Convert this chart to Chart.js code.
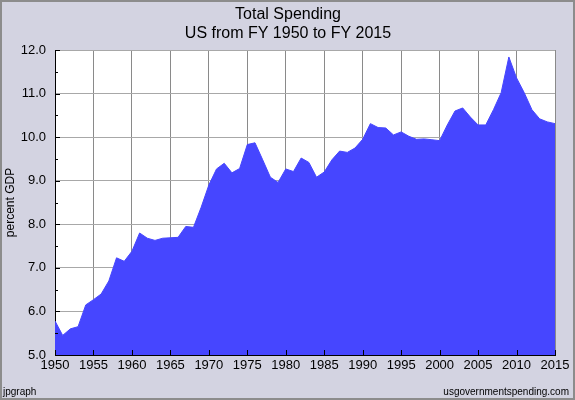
<!DOCTYPE html>
<html lang="en">
<head>
    <meta charset="UTF-8">
    <title>Total Spending - US from FY 1950 to FY 2015</title>
    <style>
        body {
            margin: 0;
            padding: 0;
            background: #ffffff;
        }
        .chart-box {
            width: 575px;
            height: 400px;
        }
    </style>
    <script src="https://cdn.jsdelivr.net/npm/chart.js@4/dist/chart.umd.min.js"></script>
</head>
<body>
    <div class="chart-box">
        <canvas id="spendingChart" width="575" height="400"></canvas>
    </div>

    <script>
        // fiscal years and total spending (percent GDP)
        const years = [
            1950, 1951, 1952, 1953, 1954, 1955, 1956, 1957, 1958, 1959,
            1960, 1961, 1962, 1963, 1964, 1965, 1966, 1967, 1968, 1969,
            1970, 1971, 1972, 1973, 1974, 1975, 1976, 1977, 1978, 1979,
            1980, 1981, 1982, 1983, 1984, 1985, 1986, 1987, 1988, 1989,
            1990, 1991, 1992, 1993, 1994, 1995, 1996, 1997, 1998, 1999,
            2000, 2001, 2002, 2003, 2004, 2005, 2006, 2007, 2008, 2009,
            2010, 2011, 2012, 2013, 2014, 2015
        ];
        const spending = [
            5.78, 5.45, 5.60, 5.65, 6.15, 6.27, 6.40, 6.70, 7.23, 7.15,
            7.38, 7.80, 7.68, 7.63, 7.68, 7.69, 7.70, 7.95, 7.93, 8.39,
            8.90, 9.27, 9.40, 9.18, 9.28, 9.83, 9.87, 9.48, 9.08, 8.96,
            9.27, 9.21, 9.52, 9.42, 9.08, 9.20, 9.48, 9.68, 9.65, 9.75,
            9.95, 10.31, 10.22, 10.21, 10.05, 10.12, 10.02, 9.95, 9.96, 9.94,
            9.92, 10.28, 10.60, 10.67, 10.46, 10.28, 10.28, 10.63, 11.02, 11.84,
            11.36, 11.02, 10.63, 10.42, 10.35, 10.31
        ];
        const titleLines = ['Total Spending', 'US from FY 1950 to FY 2015'];
        const yAxisTitle = 'percent GDP';
        const leftNote = 'jpgraph';
        const rightNote = 'usgovernmentspending.com';

        const FONT = '"Liberation Sans", Arial, sans-serif';

        // background, frame, titles and inside tick marks (jpgraph look)
        const framePlugin = {
            id: 'frame',
            beforeDraw(chart) {
                const ctx = chart.ctx;
                const a = chart.chartArea;
                ctx.save();
                ctx.fillStyle = '#d3d3e1';
                ctx.fillRect(0, 0, chart.width, chart.height);
                ctx.strokeStyle = '#8c8c8c';
                ctx.lineWidth = 2;
                ctx.strokeRect(1, 1, chart.width - 2, chart.height - 2);
                ctx.fillStyle = '#ffffff';
                ctx.fillRect(a.left, a.top, a.right - a.left, a.bottom - a.top);
                ctx.restore();
            },
            afterDraw(chart) {
                const ctx = chart.ctx;
                const a = chart.chartArea;
                const xs = chart.scales.x;
                const ys = chart.scales.y;
                ctx.save();

                // titles
                ctx.fillStyle = '#000000';
                ctx.textAlign = 'center';
                ctx.textBaseline = 'middle';
                ctx.font = '16px ' + FONT;
                ctx.fillText(titleLines[0], 288, 15);
                ctx.fillText(titleLines[1], 288, 34);

                // footer notes
                ctx.font = '10px ' + FONT;
                ctx.textAlign = 'left';
                ctx.fillText(leftNote, 3, 392);
                ctx.textAlign = 'right';
                ctx.fillText(rightNote, 569, 392);

                // tick marks pointing inside the plot
                ctx.strokeStyle = '#000000';
                ctx.lineWidth = 1;
                ctx.beginPath();
                for (let v = 5; v <= 12; v += 0.5) {
                    const y = Math.round(ys.getPixelForValue(v)) + 0.5;
                    const len = (v % 1 === 0) ? 5 : 3;
                    ctx.moveTo(a.left, y);
                    ctx.lineTo(a.left + len, y);
                }
                for (let yr = 1950; yr <= 2015; yr += 5) {
                    const x = Math.round(xs.getPixelForValue(yr)) + 0.5;
                    ctx.moveTo(x, a.bottom);
                    ctx.lineTo(x, a.bottom - 5);
                }
                ctx.stroke();
                ctx.restore();
            }
        };

        const points = years.map((yr, i) => ({ x: yr, y: spending[i] }));

        const chart = new Chart(document.getElementById('spendingChart'), {
            type: 'line',
            data: {
                datasets: [{
                    label: 'Total Spending',
                    data: points,
                    fill: 'start',
                    backgroundColor: '#4646ff',
                    borderColor: '#4646ff',
                    borderWidth: 1,
                    pointRadius: 0,
                    tension: 0
                }]
            },
            options: {
                responsive: false,
                animation: false,
                devicePixelRatio: 1,
                layout: {
                    padding: { left: 2, top: 50, right: 20, bottom: 0 }
                },
                plugins: {
                    legend: { display: false },
                    title: { display: false },
                    tooltip: { enabled: false }
                },
                scales: {
                    x: {
                        type: 'linear',
                        min: 1950,
                        max: 2015,
                        z: 1,
                        afterFit(scale) { scale.height = 45; },
                        ticks: {
                            stepSize: 5,
                            padding: 3,
                            color: '#000000',
                            font: { family: FONT, size: 13 },
                            callback: (v) => String(v)
                        },
                        grid: {
                            color: '#8a8a8a',
                            drawTicks: false
                        },
                        border: { color: '#000000', width: 1 }
                    },
                    y: {
                        min: 5,
                        max: 12,
                        z: 1,
                        afterFit(scale) { scale.width = 53; },
                        title: {
                            display: true,
                            text: yAxisTitle,
                            color: '#000000',
                            font: { family: FONT, size: 12 },
                            padding: { top: 1, bottom: 0 }
                        },
                        ticks: {
                            stepSize: 1,
                            padding: 9,
                            color: '#000000',
                            font: { family: FONT, size: 13 },
                            callback: (v) => v.toFixed(1)
                        },
                        grid: {
                            color: '#a8a8a8',
                            drawTicks: false
                        },
                        border: { color: '#000000', width: 1 }
                    }
                }
            },
            plugins: [framePlugin]
        });
    </script>
</body>
</html>
